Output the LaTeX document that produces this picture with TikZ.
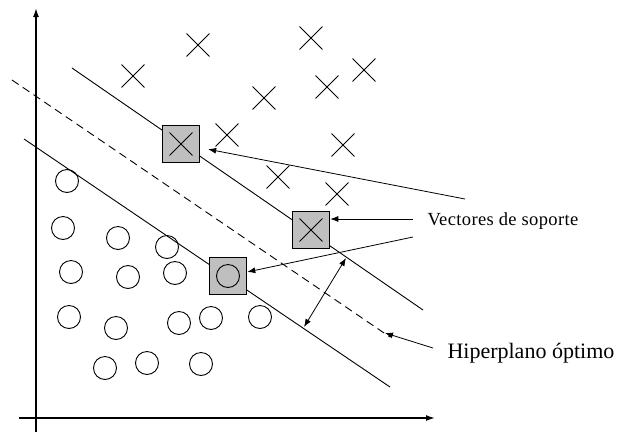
\documentclass[tikz,border=0pt]{standalone}
\usepackage{fontspec}
\setmainfont{Liberation Serif}
\usetikzlibrary{arrows.meta,shapes.misc}
\tikzset{
  cruz/.style={cross out, draw, minimum size=22pt, inner sep=0pt, line width=0.9pt},
  bola/.style={circle, draw, minimum size=23pt, inner sep=0pt, line width=0.9pt},
  soporte/.style={rectangle, draw, fill=gray!50, minimum size=37pt, inner sep=0pt, line width=1.6pt},
  flecha/.style={-{Latex[length=8pt,width=6pt]}, line width=0.8pt},
  doble/.style={{Latex[length=8pt,width=6pt]}-{Latex[length=8pt,width=6pt]}, line width=0.8pt},
  eje/.style={-{Latex[length=9pt,width=6pt]}, line width=1.5pt}
}
\begin{document}
\begin{tikzpicture}[x=1pt,y=-1pt]
\useasboundingbox (0,0) rectangle (618,432);

\coordinate (ey0) at (36,432);
\coordinate (ey1) at (36,8);
\coordinate (ex0) at (19,418);
\coordinate (ex1) at (435,418);

\coordinate (a1) at (72,68);
\coordinate (a2) at (423,310);
\coordinate (h1) at (12,80);
\coordinate (h2) at (390,337);
\coordinate (b1) at (24,139);
\coordinate (b2) at (390,387);

\draw[eje] (ey0) -- (ey1);
\draw[eje] (ex0) -- (ex1);
\draw[line width=0.9pt] (a1) -- (a2);
\draw[line width=0.9pt, dash pattern=on 8pt off 5pt] (h1) -- (h2);
\draw[line width=0.9pt] (b1) -- (b2);

\node[cruz] (x1) at (198,45) {};
\node[cruz] (x2) at (311,38) {};
\node[cruz] (x3) at (133,76) {};
\node[cruz] (x4) at (364,70) {};
\node[cruz] (x5) at (327,87) {};
\node[cruz] (x6) at (264,98) {};
\node[cruz] (x7) at (227,135) {};
\node[cruz] (x8) at (343,145) {};
\node[cruz] (x9) at (278,177) {};
\node[cruz] (x10) at (337,194) {};

\node[bola] (o1) at (67,181) {};
\node[bola] (o2) at (63,228) {};
\node[bola] (o3) at (118,238) {};
\node[bola] (o4) at (167,247) {};
\node[bola] (o5) at (71,272) {};
\node[bola] (o6) at (128,277) {};
\node[bola] (o7) at (175,273) {};
\node[bola] (o8) at (69,317) {};
\node[bola] (o9) at (116,328) {};
\node[bola] (o10) at (179,323) {};
\node[bola] (o11) at (211,318) {};
\node[bola] (o12) at (260,317) {};
\node[bola] (o13) at (105,368) {};
\node[bola] (o14) at (147,363) {};
\node[bola] (o15) at (201,364) {};

\node[soporte] (sv1) at (181,144) {};
\node[soporte] (sv2) at (311,230) {};
\node[soporte] (sv3) at (228,276) {};
\node[cruz] (xs1) at (181,144) {};
\node[cruz] (xs2) at (311,230) {};
\node[bola] (os3) at (228,276) {};

\node[anchor=west] (vec) at (424,221) {\fontsize{18.5}{20}\selectfont\addfontfeature{LetterSpace=2}Vectores de soporte};
\node[anchor=west] (hip) at (444,353) {\fontsize{22}{24}\selectfont Hiperplano óptimo};

\coordinate (v1) at (465,199);
\coordinate (v2) at (413,219);
\coordinate (v3) at (413,237);
\coordinate (hp) at (433,348);
\coordinate (hd) at (385,333);
\coordinate (m1) at (304,327);
\coordinate (m2) at (346,258);

\path[flecha]
(v1) edge[shorten >=8pt] (sv1)
(v2) edge (v2 -| sv2.east)
(v3) edge (sv3)
(hp) edge (hd)
(m1) edge[doble] (m2);
\end{tikzpicture}
\end{document}
